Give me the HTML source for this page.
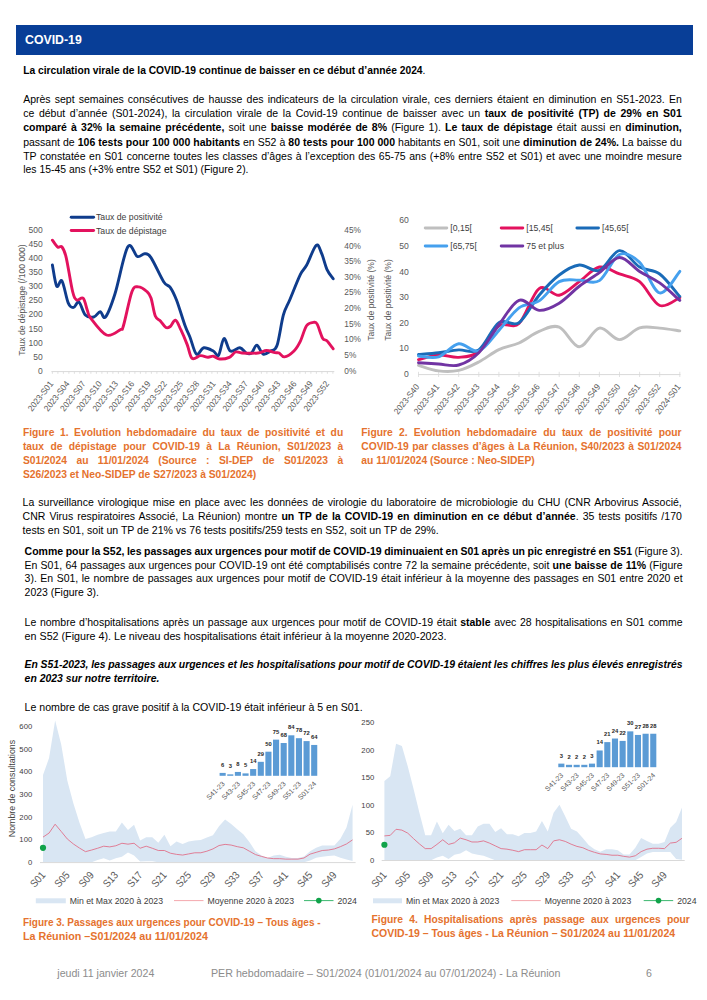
<!DOCTYPE html>
<html><head><meta charset="utf-8"><style>
html,body{margin:0;padding:0;background:#fff;}
body{width:707px;height:1000px;position:relative;overflow:hidden;font-family:"Liberation Sans", sans-serif;}
.t{position:absolute;white-space:nowrap;}
.hdr{position:absolute;left:16px;top:25px;width:677px;height:30px;background:#083E97;}
.hdr span{position:absolute;left:9px;top:0;line-height:30px;color:#fff;font-weight:bold;font-size:12.3px;}
</style></head><body>
<div class="hdr"><span>COVID-19</span></div>
<div class="t" style="left:23.2px;top:65.28px;font-size:10.27px;line-height:12.32px;font-weight:normal;font-style:normal;color:#000;word-spacing:0.000px;"><b>La circulation virale de la COVID-19 continue de baisser en ce début d’année 2024</b>.</div><div class="t" style="left:23.2px;top:92.66px;font-size:10.5px;line-height:12.6px;font-weight:normal;font-style:normal;color:#000;word-spacing:1.240px;">Après sept semaines consécutives de hausse des indicateurs de la circulation virale, ces derniers étaient en diminution en S51-2023. En</div><div class="t" style="left:23.2px;top:107.06px;font-size:10.5px;line-height:12.6px;font-weight:normal;font-style:normal;color:#000;word-spacing:1.735px;">ce début d’année (S01-2024), la circulation virale de la Covid-19 continue de baisser avec un <b>taux de positivité (TP) de 29% en S01</b></div><div class="t" style="left:23.2px;top:121.46px;font-size:10.5px;line-height:12.6px;font-weight:normal;font-style:normal;color:#000;word-spacing:1.236px;"><b>comparé à 32% la semaine précédente,</b> soit une <b>baisse modérée de 8%</b> (Figure 1). <b>Le taux de dépistage</b> était aussi en <b>diminution,</b></div><div class="t" style="left:23.2px;top:135.86px;font-size:10.5px;line-height:12.6px;font-weight:normal;font-style:normal;color:#000;word-spacing:0.120px;">passant de <b>106 tests pour 100 000 habitants</b> en S52 à <b>80 tests pour 100 000</b> habitants en S01, soit une <b>diminution de 24%.</b> La baisse du</div><div class="t" style="left:23.2px;top:150.06px;font-size:10.5px;line-height:12.6px;font-weight:normal;font-style:normal;color:#000;word-spacing:0.664px;">TP constatée en S01 concerne toutes les classes d’âges à l’exception des 65-75 ans (+8% entre S52 et S01) et avec une moindre mesure</div><div class="t" style="left:23.2px;top:164.33px;font-size:10.424px;line-height:12.51px;font-weight:normal;font-style:normal;color:#000;word-spacing:0.000px;">les 15-45 ans (+3% entre S52 et S01) (Figure 2).</div><div class="t" style="left:22.6px;top:495.86px;font-size:10.5px;line-height:12.6px;font-weight:normal;font-style:normal;color:#000;word-spacing:1.150px;">La surveillance virologique mise en place avec les données de virologie du laboratoire de microbiologie du CHU (CNR Arbovirus Associé,</div><div class="t" style="left:22.6px;top:509.76px;font-size:10.5px;line-height:12.6px;font-weight:normal;font-style:normal;color:#000;word-spacing:1.149px;">CNR Virus respiratoires Associé, La Réunion) montre <b>un TP de la COVID-19 en diminution en ce début d’année</b>. 35 tests positifs /170</div><div class="t" style="left:22.6px;top:523.51px;font-size:10.55px;line-height:12.66px;font-weight:normal;font-style:normal;color:#000;word-spacing:0.000px;">tests en S01, soit un TP de 21% vs 76 tests positifs/259 tests en S52, soit un TP de 29%.</div><div class="t" style="left:24.6px;top:544.76px;font-size:10.5px;line-height:12.6px;font-weight:normal;font-style:normal;color:#000;word-spacing:-0.381px;"><b>Comme pour la S52, les passages aux urgences pour motif de COVID-19 diminuaient en S01 après un pic enregistré en S51</b> (Figure 3).</div><div class="t" style="left:24.6px;top:558.56px;font-size:10.5px;line-height:12.6px;font-weight:normal;font-style:normal;color:#000;word-spacing:0.259px;">En S01, 64 passages aux urgences pour COVID-19 ont été comptabilisés contre 72 la semaine précédente, soit <b>une baisse de 11%</b> (Figure</div><div class="t" style="left:24.6px;top:572.46px;font-size:10.5px;line-height:12.6px;font-weight:normal;font-style:normal;color:#000;word-spacing:0.567px;">3). En S01, le nombre de passages aux urgences pour motif de COVID-19 était inférieur à la moyenne des passages en S01 entre 2020 et</div><div class="t" style="left:24.6px;top:586.60px;font-size:10.455px;line-height:12.55px;font-weight:normal;font-style:normal;color:#000;word-spacing:0.000px;">2023 (Figure 3).</div><div class="t" style="left:24.6px;top:615.86px;font-size:10.5px;line-height:12.6px;font-weight:normal;font-style:normal;color:#000;word-spacing:0.685px;">Le nombre d’hospitalisations après un passage aux urgences pour motif de COVID-19 était <b>stable</b> avec 28 hospitalisations en S01 comme</div><div class="t" style="left:24.6px;top:629.55px;font-size:10.727px;line-height:12.87px;font-weight:normal;font-style:normal;color:#000;word-spacing:0.000px;">en S52 (Figure 4). Le niveau des hospitalisations était inférieur à la moyenne 2020-2023.</div><div class="t" style="left:24.6px;top:658.76px;font-size:10.4px;line-height:12.48px;font-weight:bold;font-style:italic;color:#000;word-spacing:-0.221px;">En S51-2023, les passages aux urgences et les hospitalisations pour motif de COVID-19 étaient les chiffres les plus élevés enregistrés</div><div class="t" style="left:24.6px;top:672.65px;font-size:10.411px;line-height:12.49px;font-weight:bold;font-style:italic;color:#000;word-spacing:0.000px;">en 2023 sur notre territoire.</div><div class="t" style="left:24.6px;top:701.46px;font-size:10.606px;line-height:12.73px;font-weight:normal;font-style:normal;color:#000;word-spacing:0.000px;">Le nombre de cas grave positif à la COVID-19 était inférieur à 5 en S01.</div><div class="t" style="left:22.9px;top:426.65px;font-size:10.3px;line-height:12.36px;font-weight:bold;font-style:normal;color:#E5722E;word-spacing:2.723px;">Figure 1. Evolution hebdomadaire du taux de positivité et du</div><div class="t" style="left:22.9px;top:440.85px;font-size:10.3px;line-height:12.36px;font-weight:bold;font-style:normal;color:#E5722E;word-spacing:3.480px;">taux de dépistage pour COVID-19 à La Réunion, S01/2023 à</div><div class="t" style="left:22.9px;top:455.05px;font-size:10.3px;line-height:12.36px;font-weight:bold;font-style:normal;color:#E5722E;word-spacing:6.575px;">S01/2024 au 11/01/2024 (Source : SI-DEP de S01/2023 à</div><div class="t" style="left:22.9px;top:469.25px;font-size:10.3px;line-height:12.36px;font-weight:bold;font-style:normal;color:#E5722E;">S26/2023 et Neo-SIDEP de S27/2023 à S01/2024)</div><div class="t" style="left:361.3px;top:426.65px;font-size:10.3px;line-height:12.36px;font-weight:bold;font-style:normal;color:#E5722E;word-spacing:3.278px;">Figure 2. Evolution hebdomadaire du taux de positivité pour</div><div class="t" style="left:361.3px;top:440.85px;font-size:10.3px;line-height:12.36px;font-weight:bold;font-style:normal;color:#E5722E;word-spacing:0.611px;">COVID-19 par classes d’âges à La Réunion, S40/2023 à S01/2024</div><div class="t" style="left:361.3px;top:455.05px;font-size:10.3px;line-height:12.36px;font-weight:bold;font-style:normal;color:#E5722E;">au 11/01/2024 (Source : Neo-SIDEP)</div><div class="t" style="left:22.9px;top:917.03px;font-size:10.007px;line-height:12.01px;font-weight:bold;font-style:normal;color:#E5722E;word-spacing:0.000px;">Figure 3. Passages aux urgences pour COVID-19 – Tous âges -</div><div class="t" style="left:22.9px;top:930.03px;font-size:10.744px;line-height:12.89px;font-weight:bold;font-style:normal;color:#E5722E;word-spacing:0.000px;">La Réunion –S01/2024 au 11/01/2024</div><div class="t" style="left:371.5px;top:913.85px;font-size:10.3px;line-height:12.36px;font-weight:bold;font-style:normal;color:#E5722E;word-spacing:3.371px;">Figure 4. Hospitalisations après passage aux urgences pour</div><div class="t" style="left:371.5px;top:928.39px;font-size:10.47px;line-height:12.56px;font-weight:bold;font-style:normal;color:#E5722E;word-spacing:0.000px;">COVID-19 – Tous âges - La Réunion – S01/2024 au 11/01/2024</div><div class="t" style="left:57.3px;top:966.67px;font-size:10.6px;line-height:12.72px;font-weight:normal;font-style:normal;color:#8C8C8C;">jeudi 11 janvier 2024</div><div class="t" style="left:211px;top:966.59px;font-size:10.682px;line-height:12.82px;font-weight:normal;font-style:normal;color:#8C8C8C;word-spacing:0.000px;">PER hebdomadaire – S01/2024 (01/01/2024 au 07/01/2024) - La Réunion</div><div class="t" style="left:646px;top:966.67px;font-size:10.6px;line-height:12.72px;font-weight:normal;font-style:normal;color:#8C8C8C;">6</div>
<svg width="707" height="1000" viewBox="0 0 707 1000" style="position:absolute;left:0;top:0" font-family="'Liberation Sans', sans-serif"><line x1="71.2" y1="217.3" x2="93.6" y2="217.3" stroke="#0F3C8C" stroke-width="2.9" stroke-linecap="round"/><text x="96.00" y="220.47" font-size="8.7" text-anchor="start" fill="#404040" font-weight="normal">Taux de positivité</text><line x1="71.2" y1="230.5" x2="93.6" y2="230.5" stroke="#E3125E" stroke-width="2.9" stroke-linecap="round"/><text x="96.00" y="233.67" font-size="8.7" text-anchor="start" fill="#404040" font-weight="normal">Taux de dépistage</text><text x="42.70" y="373.70" font-size="8.5" text-anchor="end" fill="#595959" font-weight="normal">0</text><text x="42.70" y="359.64" font-size="8.5" text-anchor="end" fill="#595959" font-weight="normal">50</text><text x="42.70" y="345.58" font-size="8.5" text-anchor="end" fill="#595959" font-weight="normal">100</text><text x="42.70" y="331.52" font-size="8.5" text-anchor="end" fill="#595959" font-weight="normal">150</text><text x="42.70" y="317.46" font-size="8.5" text-anchor="end" fill="#595959" font-weight="normal">200</text><text x="42.70" y="303.40" font-size="8.5" text-anchor="end" fill="#595959" font-weight="normal">250</text><text x="42.70" y="289.34" font-size="8.5" text-anchor="end" fill="#595959" font-weight="normal">300</text><text x="42.70" y="275.28" font-size="8.5" text-anchor="end" fill="#595959" font-weight="normal">350</text><text x="42.70" y="261.22" font-size="8.5" text-anchor="end" fill="#595959" font-weight="normal">400</text><text x="42.70" y="247.16" font-size="8.5" text-anchor="end" fill="#595959" font-weight="normal">450</text><text x="42.70" y="233.10" font-size="8.5" text-anchor="end" fill="#595959" font-weight="normal">500</text><text x="344.30" y="373.63" font-size="8.3" text-anchor="start" fill="#595959" font-weight="normal">0%</text><text x="344.30" y="357.99" font-size="8.3" text-anchor="start" fill="#595959" font-weight="normal">5%</text><text x="344.30" y="342.35" font-size="8.3" text-anchor="start" fill="#595959" font-weight="normal">10%</text><text x="344.30" y="326.71" font-size="8.3" text-anchor="start" fill="#595959" font-weight="normal">15%</text><text x="344.30" y="311.07" font-size="8.3" text-anchor="start" fill="#595959" font-weight="normal">20%</text><text x="344.30" y="295.43" font-size="8.3" text-anchor="start" fill="#595959" font-weight="normal">25%</text><text x="344.30" y="279.79" font-size="8.3" text-anchor="start" fill="#595959" font-weight="normal">30%</text><text x="344.30" y="264.15" font-size="8.3" text-anchor="start" fill="#595959" font-weight="normal">35%</text><text x="344.30" y="248.51" font-size="8.3" text-anchor="start" fill="#595959" font-weight="normal">40%</text><text x="344.30" y="232.87" font-size="8.3" text-anchor="start" fill="#595959" font-weight="normal">45%</text><text x="24.50" y="300.00" font-size="8.6" text-anchor="middle" fill="#595959" font-weight="normal" transform="rotate(-90 24.50 300.00)">Taux de dépistage (/100 000)</text><text x="374.20" y="300.00" font-size="8.6" text-anchor="middle" fill="#595959" font-weight="normal" transform="rotate(-90 374.20 300.00)">Taux de positivité (%)</text><line x1="51.4" y1="371.6" x2="334.3" y2="371.6" stroke="#D9D9D9" stroke-width="1"/><path d="M52.40,371.6 v2.2 M57.90,371.6 v2.2 M63.40,371.6 v2.2 M68.90,371.6 v2.2 M74.40,371.6 v2.2 M79.90,371.6 v2.2 M85.40,371.6 v2.2 M90.90,371.6 v2.2 M96.40,371.6 v2.2 M101.90,371.6 v2.2 M107.40,371.6 v2.2 M112.90,371.6 v2.2 M118.40,371.6 v2.2 M123.90,371.6 v2.2 M129.40,371.6 v2.2 M134.90,371.6 v2.2 M140.40,371.6 v2.2 M145.90,371.6 v2.2 M151.40,371.6 v2.2 M156.90,371.6 v2.2 M162.40,371.6 v2.2 M167.90,371.6 v2.2 M173.40,371.6 v2.2 M178.90,371.6 v2.2 M184.40,371.6 v2.2 M189.90,371.6 v2.2 M195.40,371.6 v2.2 M200.90,371.6 v2.2 M206.40,371.6 v2.2 M211.90,371.6 v2.2 M217.40,371.6 v2.2 M222.90,371.6 v2.2 M228.40,371.6 v2.2 M233.90,371.6 v2.2 M239.40,371.6 v2.2 M244.90,371.6 v2.2 M250.40,371.6 v2.2 M255.90,371.6 v2.2 M261.40,371.6 v2.2 M266.90,371.6 v2.2 M272.40,371.6 v2.2 M277.90,371.6 v2.2 M283.40,371.6 v2.2 M288.90,371.6 v2.2 M294.40,371.6 v2.2 M299.90,371.6 v2.2 M305.40,371.6 v2.2 M310.90,371.6 v2.2 M316.40,371.6 v2.2 M321.90,371.6 v2.2 M327.40,371.6 v2.2 M332.90,371.6 v2.2 " stroke="#D9D9D9" stroke-width="0.8"/><text x="0" y="0" font-size="8.8" text-anchor="end" fill="#595959" font-weight="normal" transform="translate(53.70 384.00) rotate(-52) scale(0.93 1)">2023-S01</text><text x="0" y="0" font-size="8.8" text-anchor="end" fill="#595959" font-weight="normal" transform="translate(69.93 384.00) rotate(-52) scale(0.93 1)">2023-S04</text><text x="0" y="0" font-size="8.8" text-anchor="end" fill="#595959" font-weight="normal" transform="translate(86.16 384.00) rotate(-52) scale(0.93 1)">2023-S07</text><text x="0" y="0" font-size="8.8" text-anchor="end" fill="#595959" font-weight="normal" transform="translate(102.39 384.00) rotate(-52) scale(0.93 1)">2023-S10</text><text x="0" y="0" font-size="8.8" text-anchor="end" fill="#595959" font-weight="normal" transform="translate(118.62 384.00) rotate(-52) scale(0.93 1)">2023-S13</text><text x="0" y="0" font-size="8.8" text-anchor="end" fill="#595959" font-weight="normal" transform="translate(134.85 384.00) rotate(-52) scale(0.93 1)">2023-S16</text><text x="0" y="0" font-size="8.8" text-anchor="end" fill="#595959" font-weight="normal" transform="translate(151.08 384.00) rotate(-52) scale(0.93 1)">2023-S19</text><text x="0" y="0" font-size="8.8" text-anchor="end" fill="#595959" font-weight="normal" transform="translate(167.31 384.00) rotate(-52) scale(0.93 1)">2023-S22</text><text x="0" y="0" font-size="8.8" text-anchor="end" fill="#595959" font-weight="normal" transform="translate(183.54 384.00) rotate(-52) scale(0.93 1)">2023-S25</text><text x="0" y="0" font-size="8.8" text-anchor="end" fill="#595959" font-weight="normal" transform="translate(199.77 384.00) rotate(-52) scale(0.93 1)">2023-S28</text><text x="0" y="0" font-size="8.8" text-anchor="end" fill="#595959" font-weight="normal" transform="translate(216.00 384.00) rotate(-52) scale(0.93 1)">2023-S31</text><text x="0" y="0" font-size="8.8" text-anchor="end" fill="#595959" font-weight="normal" transform="translate(232.23 384.00) rotate(-52) scale(0.93 1)">2023-S34</text><text x="0" y="0" font-size="8.8" text-anchor="end" fill="#595959" font-weight="normal" transform="translate(248.46 384.00) rotate(-52) scale(0.93 1)">2023-S37</text><text x="0" y="0" font-size="8.8" text-anchor="end" fill="#595959" font-weight="normal" transform="translate(264.69 384.00) rotate(-52) scale(0.93 1)">2023-S40</text><text x="0" y="0" font-size="8.8" text-anchor="end" fill="#595959" font-weight="normal" transform="translate(280.92 384.00) rotate(-52) scale(0.93 1)">2023-S43</text><text x="0" y="0" font-size="8.8" text-anchor="end" fill="#595959" font-weight="normal" transform="translate(297.15 384.00) rotate(-52) scale(0.93 1)">2023-S46</text><text x="0" y="0" font-size="8.8" text-anchor="end" fill="#595959" font-weight="normal" transform="translate(313.38 384.00) rotate(-52) scale(0.93 1)">2023-S49</text><text x="0" y="0" font-size="8.8" text-anchor="end" fill="#595959" font-weight="normal" transform="translate(329.61 384.00) rotate(-52) scale(0.93 1)">2023-S52</text><path d="M52.40,265.00 C53.12,268.53 55.10,283.53 56.70,286.20 C58.30,288.87 60.07,278.17 62.00,281.00 C63.93,283.83 66.37,298.80 68.30,303.20 C70.23,307.60 71.82,307.58 73.60,307.40 C75.38,307.22 77.05,300.85 79.00,302.10 C80.95,303.35 82.83,312.42 85.30,314.90 C87.77,317.38 91.32,317.53 93.80,317.00 C96.28,316.47 98.25,311.70 100.20,311.70 C102.15,311.70 103.03,320.00 105.50,317.00 C107.97,314.00 111.30,305.37 115.00,293.70 C118.70,282.03 123.98,253.20 127.70,247.00 C131.42,240.80 134.47,255.37 137.30,256.50 C140.13,257.63 142.42,253.62 144.70,253.80 C146.98,253.98 147.82,252.90 151.00,257.60 C154.18,262.30 160.60,277.05 163.80,282.00 C167.00,286.95 168.08,284.30 170.20,287.30 C172.32,290.30 174.03,293.63 176.50,300.00 C178.97,306.37 182.75,319.30 185.00,325.50 C187.25,331.70 188.10,332.43 190.00,337.20 C191.90,341.97 194.10,352.33 196.40,354.10 C198.70,355.87 200.98,348.32 203.80,347.80 C206.62,347.28 210.83,349.77 213.30,351.00 C215.77,352.23 216.82,357.27 218.60,355.20 C220.38,353.13 222.05,339.30 224.00,338.60 C225.95,337.90 227.65,349.47 230.30,351.00 C232.95,352.53 237.25,347.47 239.90,347.80 C242.55,348.13 244.27,352.13 246.20,353.00 C248.13,353.87 249.73,354.30 251.50,353.00 C253.27,351.70 254.85,345.02 256.80,345.20 C258.75,345.38 260.90,353.13 263.20,354.10 C265.50,355.07 268.30,352.42 270.60,351.00 C272.90,349.58 274.87,351.62 277.00,345.60 C279.13,339.58 281.28,322.50 283.40,314.90 C285.52,307.30 286.88,306.72 289.70,300.00 C292.52,293.28 297.47,280.43 300.30,274.60 C303.13,268.77 304.05,269.88 306.70,265.00 C309.35,260.12 313.72,247.25 316.20,245.30 C318.68,243.35 319.82,249.30 321.60,253.30 C323.38,257.30 324.97,265.05 326.90,269.30 C328.83,273.55 332.15,277.22 333.20,278.80" fill="none" stroke="#0F3C8C" stroke-width="2.9" stroke-linejoin="round" stroke-linecap="round"/><path d="M52.40,240.20 C53.28,241.33 56.10,245.87 57.70,247.00 C59.30,248.13 60.58,245.23 62.00,247.00 C63.42,248.77 64.43,250.18 66.20,257.60 C67.97,265.02 70.83,284.43 72.60,291.50 C74.37,298.57 75.03,298.87 76.80,300.00 C78.57,301.13 81.43,296.53 83.20,298.30 C84.97,300.07 86.17,307.32 87.40,310.60 C88.63,313.88 87.42,313.93 90.60,318.00 C93.78,322.07 101.55,333.05 106.50,335.00 C111.45,336.95 117.47,331.28 120.30,329.70 C123.13,328.12 121.55,331.87 123.50,325.50 C125.45,319.13 129.52,297.93 132.00,291.50 C134.48,285.07 135.93,286.90 138.40,286.90 C140.87,286.90 144.70,289.67 146.80,291.50 C148.90,293.33 149.58,293.82 151.00,297.90 C152.42,301.98 153.70,312.12 155.30,316.00 C156.90,319.88 158.83,319.27 160.60,321.20 C162.37,323.13 164.30,326.72 165.90,327.60 C167.50,328.48 168.60,327.73 170.20,326.50 C171.80,325.27 173.73,319.67 175.50,320.20 C177.27,320.73 178.85,325.63 180.80,329.70 C182.75,333.77 185.32,339.82 187.20,344.60 C189.08,349.38 189.87,356.57 192.10,358.40 C194.33,360.23 197.95,355.78 200.60,355.60 C203.25,355.42 205.88,357.20 208.00,357.30 C210.12,357.40 211.35,355.92 213.30,356.20 C215.25,356.48 217.03,358.82 219.70,359.00 C222.37,359.18 226.65,358.47 229.30,357.30 C231.95,356.13 233.48,352.72 235.60,352.00 C237.72,351.28 238.28,352.83 242.00,353.00 C245.72,353.17 253.83,353.42 257.90,353.00 C261.97,352.58 263.57,350.57 266.40,350.50 C269.23,350.43 272.78,352.18 274.90,352.60 C277.02,353.02 277.52,352.28 279.10,353.00 C280.68,353.72 281.92,357.23 284.40,356.90 C286.88,356.57 291.35,353.58 294.00,351.00 C296.65,348.42 298.18,345.65 300.30,341.40 C302.42,337.15 304.40,328.68 306.70,325.50 C309.00,322.32 312.33,322.48 314.10,322.30 C315.87,322.12 315.88,321.75 317.30,324.40 C318.72,327.05 321.00,335.47 322.60,338.20 C324.20,340.93 325.13,339.03 326.90,340.80 C328.67,342.57 332.15,347.47 333.20,348.80" fill="none" stroke="#E3125E" stroke-width="2.9" stroke-linejoin="round" stroke-linecap="round"/><line x1="425.2" y1="228" x2="446.8" y2="228" stroke="#BFBFBF" stroke-width="2.9" stroke-linecap="round"/><text x="450.30" y="231.17" font-size="8.7" text-anchor="start" fill="#404040" font-weight="normal">[0,15[</text><line x1="501.2" y1="228" x2="522.8" y2="228" stroke="#E3125E" stroke-width="2.9" stroke-linecap="round"/><text x="526.30" y="231.17" font-size="8.7" text-anchor="start" fill="#404040" font-weight="normal">[15,45[</text><line x1="576.9000000000001" y1="228" x2="598.5" y2="228" stroke="#1A6BB8" stroke-width="2.9" stroke-linecap="round"/><text x="602.00" y="231.17" font-size="8.7" text-anchor="start" fill="#404040" font-weight="normal">[45,65[</text><line x1="425.2" y1="246" x2="446.8" y2="246" stroke="#45A0EE" stroke-width="2.9" stroke-linecap="round"/><text x="450.30" y="249.17" font-size="8.7" text-anchor="start" fill="#404040" font-weight="normal">[65,75[</text><line x1="501.2" y1="246" x2="522.8" y2="246" stroke="#7134A3" stroke-width="2.9" stroke-linecap="round"/><text x="526.30" y="249.17" font-size="8.7" text-anchor="start" fill="#404040" font-weight="normal">75 et plus</text><text x="408.80" y="377.13" font-size="8.6" text-anchor="end" fill="#595959" font-weight="normal">0</text><text x="408.80" y="351.48" font-size="8.6" text-anchor="end" fill="#595959" font-weight="normal">10</text><text x="408.80" y="325.83" font-size="8.6" text-anchor="end" fill="#595959" font-weight="normal">20</text><text x="408.80" y="300.18" font-size="8.6" text-anchor="end" fill="#595959" font-weight="normal">30</text><text x="408.80" y="274.53" font-size="8.6" text-anchor="end" fill="#595959" font-weight="normal">40</text><text x="408.80" y="248.88" font-size="8.6" text-anchor="end" fill="#595959" font-weight="normal">50</text><text x="408.80" y="223.23" font-size="8.6" text-anchor="end" fill="#595959" font-weight="normal">60</text><text x="391.30" y="300.00" font-size="8.6" text-anchor="middle" fill="#595959" font-weight="normal" transform="rotate(-90 391.30 300.00)">Taux de positivité (%)</text><line x1="418" y1="374.6" x2="680.5" y2="374.6" stroke="#D9D9D9" stroke-width="1"/><path d="M418.50,371.8 v5.2 M438.60,371.8 v5.2 M458.70,371.8 v5.2 M478.80,371.8 v5.2 M498.90,371.8 v5.2 M519.00,371.8 v5.2 M539.10,371.8 v5.2 M559.20,371.8 v5.2 M579.30,371.8 v5.2 M599.40,371.8 v5.2 M619.50,371.8 v5.2 M639.60,371.8 v5.2 M659.70,371.8 v5.2 M679.80,371.8 v5.2 " stroke="#D9D9D9" stroke-width="0.8"/><text x="0" y="0" font-size="8.8" text-anchor="end" fill="#595959" font-weight="normal" transform="translate(419.80 387.00) rotate(-52) scale(0.93 1)">2023-S40</text><text x="0" y="0" font-size="8.8" text-anchor="end" fill="#595959" font-weight="normal" transform="translate(439.90 387.00) rotate(-52) scale(0.93 1)">2023-S41</text><text x="0" y="0" font-size="8.8" text-anchor="end" fill="#595959" font-weight="normal" transform="translate(460.00 387.00) rotate(-52) scale(0.93 1)">2023-S42</text><text x="0" y="0" font-size="8.8" text-anchor="end" fill="#595959" font-weight="normal" transform="translate(480.10 387.00) rotate(-52) scale(0.93 1)">2023-S43</text><text x="0" y="0" font-size="8.8" text-anchor="end" fill="#595959" font-weight="normal" transform="translate(500.20 387.00) rotate(-52) scale(0.93 1)">2023-S44</text><text x="0" y="0" font-size="8.8" text-anchor="end" fill="#595959" font-weight="normal" transform="translate(520.30 387.00) rotate(-52) scale(0.93 1)">2023-S45</text><text x="0" y="0" font-size="8.8" text-anchor="end" fill="#595959" font-weight="normal" transform="translate(540.40 387.00) rotate(-52) scale(0.93 1)">2023-S46</text><text x="0" y="0" font-size="8.8" text-anchor="end" fill="#595959" font-weight="normal" transform="translate(560.50 387.00) rotate(-52) scale(0.93 1)">2023-S47</text><text x="0" y="0" font-size="8.8" text-anchor="end" fill="#595959" font-weight="normal" transform="translate(580.60 387.00) rotate(-52) scale(0.93 1)">2023-S48</text><text x="0" y="0" font-size="8.8" text-anchor="end" fill="#595959" font-weight="normal" transform="translate(600.70 387.00) rotate(-52) scale(0.93 1)">2023-S49</text><text x="0" y="0" font-size="8.8" text-anchor="end" fill="#595959" font-weight="normal" transform="translate(620.80 387.00) rotate(-52) scale(0.93 1)">2023-S50</text><text x="0" y="0" font-size="8.8" text-anchor="end" fill="#595959" font-weight="normal" transform="translate(640.90 387.00) rotate(-52) scale(0.93 1)">2023-S51</text><text x="0" y="0" font-size="8.8" text-anchor="end" fill="#595959" font-weight="normal" transform="translate(661.00 387.00) rotate(-52) scale(0.93 1)">2023-S52</text><text x="0" y="0" font-size="8.8" text-anchor="end" fill="#595959" font-weight="normal" transform="translate(681.10 387.00) rotate(-52) scale(0.93 1)">2024-S01</text><path d="M418.50,365.28 C421.85,366.22 431.90,370.07 438.60,370.92 C445.30,371.78 452.00,371.91 458.70,370.41 C465.40,368.91 472.10,365.41 478.80,361.94 C485.50,358.48 492.20,352.80 498.90,349.63 C505.60,346.47 512.30,346.00 519.00,342.96 C525.70,339.93 532.40,334.07 539.10,331.42 C545.80,328.77 552.50,324.50 559.20,327.06 C565.90,329.63 572.60,346.64 579.30,346.81 C586.00,346.98 592.70,329.28 599.40,328.09 C606.10,326.89 612.80,339.67 619.50,339.63 C626.20,339.59 632.90,329.75 639.60,327.83 C646.30,325.91 653.00,327.57 659.70,328.09 C666.40,328.60 676.45,330.44 679.80,330.91" fill="none" stroke="#BFBFBF" stroke-width="2.9" stroke-linejoin="round" stroke-linecap="round"/><path d="M418.50,359.64 C421.85,358.87 431.90,355.40 438.60,355.02 C445.30,354.63 452.00,357.88 458.70,357.33 C465.40,356.77 472.10,356.94 478.80,351.68 C485.50,346.43 492.20,330.48 498.90,325.78 C505.60,321.08 512.30,329.67 519.00,323.47 C525.70,317.27 532.40,293.29 539.10,288.59 C545.80,283.88 552.50,296.41 559.20,295.25 C565.90,294.10 572.60,286.36 579.30,281.66 C586.00,276.96 592.70,268.32 599.40,267.04 C606.10,265.76 612.80,271.53 619.50,273.97 C626.20,276.40 632.90,276.40 639.60,281.66 C646.30,286.92 653.00,302.86 659.70,305.51 C666.40,308.17 676.45,298.89 679.80,297.56" fill="none" stroke="#E3125E" stroke-width="2.9" stroke-linejoin="round" stroke-linecap="round"/><path d="M418.50,354.51 C421.85,354.21 431.90,353.48 438.60,352.71 C445.30,351.94 452.00,350.36 458.70,349.89 C465.40,349.42 472.10,354.42 478.80,349.89 C485.50,345.36 492.20,327.23 498.90,322.70 C505.60,318.17 512.30,327.27 519.00,322.70 C525.70,318.13 532.40,303.21 539.10,295.25 C545.80,287.30 552.50,280.04 559.20,274.99 C565.90,269.95 572.60,265.76 579.30,264.99 C586.00,264.22 592.70,272.77 599.40,270.37 C606.10,267.98 612.80,251.18 619.50,250.62 C626.20,250.07 632.90,263.15 639.60,267.04 C646.30,270.93 653.00,269.05 659.70,273.97 C666.40,278.88 676.45,292.78 679.80,296.54" fill="none" stroke="#1A6BB8" stroke-width="2.9" stroke-linejoin="round" stroke-linecap="round"/><path d="M418.50,356.05 C421.85,356.17 431.90,358.87 438.60,356.81 C445.30,354.76 452.00,344.72 458.70,343.73 C465.40,342.75 472.10,353.14 478.80,350.92 C485.50,348.69 492.20,337.58 498.90,330.39 C505.60,323.21 512.30,312.74 519.00,307.82 C525.70,302.91 532.40,305.26 539.10,300.90 C545.80,296.54 552.50,285.12 559.20,281.66 C565.90,278.20 572.60,280.29 579.30,280.12 C586.00,279.95 592.70,284.91 599.40,280.63 C606.10,276.36 612.80,257.51 619.50,254.47 C626.20,251.44 632.90,256.01 639.60,262.42 C646.30,268.84 653.00,291.45 659.70,292.95 C666.40,294.44 676.45,274.99 679.80,271.40" fill="none" stroke="#45A0EE" stroke-width="2.9" stroke-linejoin="round" stroke-linecap="round"/><path d="M418.50,362.71 C421.85,362.93 431.90,363.61 438.60,364.00 C445.30,364.38 452.00,366.90 458.70,365.02 C465.40,363.14 472.10,359.42 478.80,352.71 C485.50,346.00 492.20,333.47 498.90,324.75 C505.60,316.03 512.30,302.78 519.00,300.38 C525.70,297.99 532.40,309.92 539.10,310.39 C545.80,310.86 552.50,307.22 559.20,303.21 C565.90,299.19 572.60,291.36 579.30,286.28 C586.00,281.19 592.70,277.47 599.40,272.68 C606.10,267.89 612.80,257.76 619.50,257.55 C626.20,257.34 632.90,267.17 639.60,271.40 C646.30,275.63 653.00,278.11 659.70,282.94 C666.40,287.77 676.45,297.48 679.80,300.38" fill="none" stroke="#7134A3" stroke-width="2.9" stroke-linejoin="round" stroke-linecap="round"/><path d="M43.00,775.02 L49.07,758.02 L55.14,720.61 L61.21,744.42 L67.28,780.46 L73.35,803.13 L79.42,822.40 L85.49,838.95 L91.56,837.14 L97.63,834.87 L103.70,833.06 L109.77,831.47 L115.84,831.47 L121.91,822.40 L127.98,829.88 L134.05,824.67 L140.12,840.54 L146.19,837.14 L152.26,837.14 L158.33,842.80 L164.40,834.87 L170.47,846.20 L176.54,841.44 L182.61,843.94 L188.68,841.44 L194.75,840.54 L200.82,840.08 L206.89,837.59 L212.96,835.32 L219.03,826.25 L225.10,819.45 L231.17,823.99 L237.24,829.20 L243.31,834.19 L249.38,842.12 L255.45,851.19 L261.52,855.50 L267.59,857.99 L273.66,855.50 L279.73,854.82 L285.80,856.63 L291.87,857.99 L297.94,857.99 L304.01,856.41 L310.08,851.19 L316.15,847.79 L322.22,845.52 L328.29,845.52 L334.36,845.52 L340.43,838.72 L346.50,827.39 L352.57,804.72 L352.57,860.94 L346.50,859.58 L340.43,857.77 L334.36,855.50 L328.29,855.95 L322.22,856.63 L316.15,857.77 L310.08,860.49 L304.01,862.30 L297.94,862.30 L291.87,862.30 L285.80,862.30 L279.73,862.30 L273.66,862.30 L267.59,862.30 L261.52,862.30 L255.45,862.30 L249.38,862.30 L243.31,862.30 L237.24,862.30 L231.17,862.30 L225.10,862.30 L219.03,862.30 L212.96,862.30 L206.89,862.30 L200.82,862.30 L194.75,862.30 L188.68,862.30 L182.61,862.30 L176.54,862.30 L170.47,862.30 L164.40,862.30 L158.33,862.30 L152.26,861.17 L146.19,861.17 L140.12,861.62 L134.05,855.50 L127.98,852.55 L121.91,856.63 L115.84,858.22 L109.77,860.49 L103.70,858.22 L97.63,860.03 L91.56,862.30 L85.49,862.30 L79.42,862.30 L73.35,862.30 L67.28,862.30 L61.21,862.30 L55.14,862.30 L49.07,862.30 L43.00,862.30 Z" fill="#D9E6F3"/><line x1="40" y1="862.5999999999999" x2="355.6" y2="862.5999999999999" stroke="#D9D9D9" stroke-width="1"/><path d="M43.00,837.14 L49.07,833.06 L55.14,824.21 L61.21,831.47 L67.28,838.95 L73.35,843.94 L79.42,848.02 L85.49,851.65 L91.56,850.06 L97.63,848.24 L103.70,846.20 L109.77,846.88 L115.84,845.75 L121.91,843.26 L127.98,844.16 L134.05,843.26 L140.12,848.24 L146.19,846.20 L152.26,848.24 L158.33,850.51 L164.40,850.51 L170.47,853.23 L176.54,854.37 L182.61,855.05 L188.68,853.91 L194.75,852.78 L200.82,852.78 L206.89,851.19 L212.96,848.92 L219.03,845.52 L225.10,844.39 L231.17,845.07 L237.24,846.66 L243.31,847.79 L249.38,851.19 L255.45,854.59 L261.52,856.41 L267.59,857.99 L273.66,858.67 L279.73,858.67 L285.80,859.13 L291.87,859.13 L297.94,859.13 L304.01,857.99 L310.08,854.14 L316.15,852.33 L322.22,850.51 L328.29,850.06 L334.36,848.92 L340.43,846.66 L346.50,843.94 L352.57,839.86" fill="none" stroke="#E06A84" stroke-width="0.85"/><circle cx="43.00" cy="847.79" r="3.1" fill="#10A34A"/><text x="14.80" y="788.50" font-size="8.8" text-anchor="middle" fill="#404040" font-weight="normal" transform="rotate(-90 14.80 788.50)">Nombre de consultations</text><text x="32.20" y="865.11" font-size="7.7" text-anchor="end" fill="#404040" font-weight="normal">0</text><text x="32.20" y="842.44" font-size="7.7" text-anchor="end" fill="#404040" font-weight="normal">100</text><text x="32.20" y="819.77" font-size="7.7" text-anchor="end" fill="#404040" font-weight="normal">200</text><text x="32.20" y="797.10" font-size="7.7" text-anchor="end" fill="#404040" font-weight="normal">300</text><text x="32.20" y="774.43" font-size="7.7" text-anchor="end" fill="#404040" font-weight="normal">400</text><text x="32.20" y="751.76" font-size="7.7" text-anchor="end" fill="#404040" font-weight="normal">500</text><text x="32.20" y="729.09" font-size="7.7" text-anchor="end" fill="#404040" font-weight="normal">600</text><text x="0" y="0" font-size="10.6" text-anchor="end" fill="#595959" font-weight="normal" transform="translate(46.00 875.50) rotate(-48) scale(0.9 1)">S01</text><text x="0" y="0" font-size="10.6" text-anchor="end" fill="#595959" font-weight="normal" transform="translate(70.28 875.50) rotate(-48) scale(0.9 1)">S05</text><text x="0" y="0" font-size="10.6" text-anchor="end" fill="#595959" font-weight="normal" transform="translate(94.56 875.50) rotate(-48) scale(0.9 1)">S09</text><text x="0" y="0" font-size="10.6" text-anchor="end" fill="#595959" font-weight="normal" transform="translate(118.84 875.50) rotate(-48) scale(0.9 1)">S13</text><text x="0" y="0" font-size="10.6" text-anchor="end" fill="#595959" font-weight="normal" transform="translate(143.12 875.50) rotate(-48) scale(0.9 1)">S17</text><text x="0" y="0" font-size="10.6" text-anchor="end" fill="#595959" font-weight="normal" transform="translate(167.40 875.50) rotate(-48) scale(0.9 1)">S21</text><text x="0" y="0" font-size="10.6" text-anchor="end" fill="#595959" font-weight="normal" transform="translate(191.68 875.50) rotate(-48) scale(0.9 1)">S25</text><text x="0" y="0" font-size="10.6" text-anchor="end" fill="#595959" font-weight="normal" transform="translate(215.96 875.50) rotate(-48) scale(0.9 1)">S29</text><text x="0" y="0" font-size="10.6" text-anchor="end" fill="#595959" font-weight="normal" transform="translate(240.24 875.50) rotate(-48) scale(0.9 1)">S33</text><text x="0" y="0" font-size="10.6" text-anchor="end" fill="#595959" font-weight="normal" transform="translate(264.52 875.50) rotate(-48) scale(0.9 1)">S37</text><text x="0" y="0" font-size="10.6" text-anchor="end" fill="#595959" font-weight="normal" transform="translate(288.80 875.50) rotate(-48) scale(0.9 1)">S41</text><text x="0" y="0" font-size="10.6" text-anchor="end" fill="#595959" font-weight="normal" transform="translate(313.08 875.50) rotate(-48) scale(0.9 1)">S45</text><text x="0" y="0" font-size="10.6" text-anchor="end" fill="#595959" font-weight="normal" transform="translate(337.36 875.50) rotate(-48) scale(0.9 1)">S49</text><rect x="219.60" y="772.91" width="6.1" height="2.89" fill="#5B9BD5"/><text x="222.65" y="766.91" font-size="5.8" text-anchor="middle" fill="#262626" font-weight="bold">6</text><rect x="227.23" y="774.35" width="6.1" height="1.45" fill="#5B9BD5"/><text x="230.28" y="768.35" font-size="5.8" text-anchor="middle" fill="#262626" font-weight="bold">3</text><rect x="234.86" y="771.94" width="6.1" height="3.86" fill="#5B9BD5"/><text x="237.91" y="765.94" font-size="5.8" text-anchor="middle" fill="#262626" font-weight="bold">8</text><rect x="242.49" y="773.39" width="6.1" height="2.41" fill="#5B9BD5"/><text x="245.54" y="767.39" font-size="5.8" text-anchor="middle" fill="#262626" font-weight="bold">5</text><rect x="250.12" y="769.05" width="6.1" height="6.75" fill="#5B9BD5"/><text x="253.17" y="763.05" font-size="5.8" text-anchor="middle" fill="#262626" font-weight="bold">14</text><rect x="257.75" y="761.82" width="6.1" height="13.98" fill="#5B9BD5"/><text x="260.80" y="755.82" font-size="5.8" text-anchor="middle" fill="#262626" font-weight="bold">29</text><rect x="265.38" y="751.70" width="6.1" height="24.10" fill="#5B9BD5"/><text x="268.43" y="745.70" font-size="5.8" text-anchor="middle" fill="#262626" font-weight="bold">50</text><rect x="273.01" y="739.65" width="6.1" height="36.15" fill="#5B9BD5"/><text x="276.06" y="733.65" font-size="5.8" text-anchor="middle" fill="#262626" font-weight="bold">75</text><rect x="280.64" y="743.02" width="6.1" height="32.78" fill="#5B9BD5"/><text x="283.69" y="737.02" font-size="5.8" text-anchor="middle" fill="#262626" font-weight="bold">68</text><rect x="288.27" y="735.31" width="6.1" height="40.49" fill="#5B9BD5"/><text x="291.32" y="729.31" font-size="5.8" text-anchor="middle" fill="#262626" font-weight="bold">84</text><rect x="295.90" y="738.20" width="6.1" height="37.60" fill="#5B9BD5"/><text x="298.95" y="732.20" font-size="5.8" text-anchor="middle" fill="#262626" font-weight="bold">78</text><rect x="303.53" y="741.10" width="6.1" height="34.70" fill="#5B9BD5"/><text x="306.58" y="735.10" font-size="5.8" text-anchor="middle" fill="#262626" font-weight="bold">72</text><rect x="311.16" y="744.95" width="6.1" height="30.85" fill="#5B9BD5"/><text x="314.21" y="738.95" font-size="5.8" text-anchor="middle" fill="#262626" font-weight="bold">64</text><text x="225.15" y="784.30" font-size="7.0" text-anchor="end" fill="#595959" font-weight="normal" transform="rotate(-45 225.15 784.30)">S41-23</text><text x="240.41" y="784.30" font-size="7.0" text-anchor="end" fill="#595959" font-weight="normal" transform="rotate(-45 240.41 784.30)">S43-23</text><text x="255.67" y="784.30" font-size="7.0" text-anchor="end" fill="#595959" font-weight="normal" transform="rotate(-45 255.67 784.30)">S45-23</text><text x="270.93" y="784.30" font-size="7.0" text-anchor="end" fill="#595959" font-weight="normal" transform="rotate(-45 270.93 784.30)">S47-23</text><text x="286.19" y="784.30" font-size="7.0" text-anchor="end" fill="#595959" font-weight="normal" transform="rotate(-45 286.19 784.30)">S49-23</text><text x="301.45" y="784.30" font-size="7.0" text-anchor="end" fill="#595959" font-weight="normal" transform="rotate(-45 301.45 784.30)">S51-23</text><text x="316.71" y="784.30" font-size="7.0" text-anchor="end" fill="#595959" font-weight="normal" transform="rotate(-45 316.71 784.30)">S01-24</text><rect x="35.8" y="898.3" width="30.0" height="5" fill="#D9E6F3"/><text x="69.80" y="903.97" font-size="8.7" text-anchor="start" fill="#404040" font-weight="normal">Min et Max 2020 à 2023</text><line x1="174" y1="900.6" x2="203.5" y2="900.6" stroke="#F4A8AE" stroke-width="1"/><text x="207.50" y="903.97" font-size="8.7" text-anchor="start" fill="#404040" font-weight="normal">Moyenne 2020 à 2023</text><line x1="304" y1="900.6" x2="333.5" y2="900.6" stroke="#3DB870" stroke-width="1"/><circle cx="318.8" cy="900.6" r="2.8" fill="#10A34A"/><text x="337.50" y="903.97" font-size="8.7" text-anchor="start" fill="#404040" font-weight="normal">2024</text><path d="M384.40,780.99 L390.23,776.30 L396.07,743.73 L401.90,745.94 L407.74,766.36 L413.57,788.99 L419.41,812.73 L425.25,835.36 L431.08,835.36 L436.91,821.56 L442.75,833.15 L448.58,824.87 L454.42,830.94 L460.25,828.74 L466.09,835.36 L471.92,835.36 L477.76,826.53 L483.59,823.77 L489.43,823.77 L495.26,832.05 L501.10,828.18 L506.93,834.26 L512.77,834.26 L518.61,836.19 L524.44,832.88 L530.27,832.88 L536.11,831.50 L541.94,821.01 L547.78,831.50 L553.62,812.73 L559.45,804.72 L565.28,816.59 L571.12,828.74 L576.95,831.50 L582.79,838.12 L588.62,845.02 L594.46,849.16 L600.29,851.64 L606.13,849.16 L611.96,849.16 L617.80,850.37 L623.63,854.40 L629.47,854.40 L635.30,847.72 L641.14,838.12 L646.97,840.88 L652.81,843.64 L658.64,843.64 L664.48,841.98 L670.32,827.63 L676.15,822.11 L681.98,807.43 L681.98,859.65 L676.15,859.10 L670.32,851.92 L664.48,851.92 L658.64,851.92 L652.81,851.92 L646.97,853.58 L641.14,856.89 L635.30,860.20 L629.47,860.20 L623.63,860.20 L617.80,860.20 L611.96,860.20 L606.13,860.20 L600.29,860.20 L594.46,860.20 L588.62,860.20 L582.79,860.20 L576.95,860.20 L571.12,860.20 L565.28,860.20 L559.45,860.20 L553.62,860.20 L547.78,860.20 L541.94,860.20 L536.11,860.20 L530.27,860.20 L524.44,860.20 L518.61,860.20 L512.77,860.20 L506.93,860.20 L501.10,860.20 L495.26,860.20 L489.43,857.99 L483.59,855.78 L477.76,854.68 L471.92,853.58 L466.09,850.26 L460.25,853.58 L454.42,854.68 L448.58,859.10 L442.75,855.78 L436.91,857.44 L431.08,860.20 L425.25,860.20 L419.41,860.20 L413.57,860.20 L407.74,860.20 L401.90,860.20 L396.07,860.20 L390.23,860.20 L384.40,860.20 Z" fill="#D9E6F3"/><line x1="381.7" y1="860.5" x2="684.7" y2="860.5" stroke="#D9D9D9" stroke-width="1"/><path d="M384.40,835.91 L390.23,835.36 L396.07,829.29 L401.90,830.12 L407.74,833.15 L413.57,838.67 L419.41,843.92 L425.25,848.61 L431.08,848.61 L436.91,844.41 L442.75,839.78 L448.58,844.41 L454.42,842.81 L460.25,838.12 L466.09,839.78 L471.92,841.98 L477.76,841.98 L483.59,840.88 L489.43,843.09 L495.26,845.85 L501.10,848.61 L506.93,849.16 L512.77,850.26 L518.61,851.64 L524.44,849.71 L530.27,849.71 L536.11,849.71 L541.94,845.02 L547.78,848.61 L553.62,840.88 L559.45,839.78 L565.28,841.43 L571.12,844.19 L576.95,846.40 L582.79,847.72 L588.62,850.37 L594.46,852.31 L600.29,853.91 L606.13,854.40 L611.96,855.23 L617.80,855.23 L623.63,856.34 L629.47,857.11 L635.30,855.78 L641.14,851.64 L646.97,849.16 L652.81,848.28 L658.64,848.28 L664.48,848.61 L670.32,843.09 L676.15,842.32 L681.98,838.29" fill="none" stroke="#E06A84" stroke-width="0.85"/><circle cx="384.40" cy="844.74" r="3.1" fill="#10A34A"/><text x="374.20" y="863.01" font-size="7.7" text-anchor="end" fill="#404040" font-weight="normal">0</text><text x="374.20" y="835.41" font-size="7.7" text-anchor="end" fill="#404040" font-weight="normal">50</text><text x="374.20" y="807.81" font-size="7.7" text-anchor="end" fill="#404040" font-weight="normal">100</text><text x="374.20" y="780.21" font-size="7.7" text-anchor="end" fill="#404040" font-weight="normal">150</text><text x="374.20" y="752.61" font-size="7.7" text-anchor="end" fill="#404040" font-weight="normal">200</text><text x="374.20" y="725.01" font-size="7.7" text-anchor="end" fill="#404040" font-weight="normal">250</text><text x="0" y="0" font-size="10.6" text-anchor="end" fill="#595959" font-weight="normal" transform="translate(387.40 875.50) rotate(-48) scale(0.9 1)">S01</text><text x="0" y="0" font-size="10.6" text-anchor="end" fill="#595959" font-weight="normal" transform="translate(410.74 875.50) rotate(-48) scale(0.9 1)">S05</text><text x="0" y="0" font-size="10.6" text-anchor="end" fill="#595959" font-weight="normal" transform="translate(434.08 875.50) rotate(-48) scale(0.9 1)">S09</text><text x="0" y="0" font-size="10.6" text-anchor="end" fill="#595959" font-weight="normal" transform="translate(457.42 875.50) rotate(-48) scale(0.9 1)">S13</text><text x="0" y="0" font-size="10.6" text-anchor="end" fill="#595959" font-weight="normal" transform="translate(480.76 875.50) rotate(-48) scale(0.9 1)">S17</text><text x="0" y="0" font-size="10.6" text-anchor="end" fill="#595959" font-weight="normal" transform="translate(504.10 875.50) rotate(-48) scale(0.9 1)">S21</text><text x="0" y="0" font-size="10.6" text-anchor="end" fill="#595959" font-weight="normal" transform="translate(527.44 875.50) rotate(-48) scale(0.9 1)">S25</text><text x="0" y="0" font-size="10.6" text-anchor="end" fill="#595959" font-weight="normal" transform="translate(550.78 875.50) rotate(-48) scale(0.9 1)">S29</text><text x="0" y="0" font-size="10.6" text-anchor="end" fill="#595959" font-weight="normal" transform="translate(574.12 875.50) rotate(-48) scale(0.9 1)">S33</text><text x="0" y="0" font-size="10.6" text-anchor="end" fill="#595959" font-weight="normal" transform="translate(597.46 875.50) rotate(-48) scale(0.9 1)">S37</text><text x="0" y="0" font-size="10.6" text-anchor="end" fill="#595959" font-weight="normal" transform="translate(620.80 875.50) rotate(-48) scale(0.9 1)">S41</text><text x="0" y="0" font-size="10.6" text-anchor="end" fill="#595959" font-weight="normal" transform="translate(644.14 875.50) rotate(-48) scale(0.9 1)">S45</text><text x="0" y="0" font-size="10.6" text-anchor="end" fill="#595959" font-weight="normal" transform="translate(667.48 875.50) rotate(-48) scale(0.9 1)">S49</text><rect x="558.30" y="763.62" width="6.1" height="3.58" fill="#5B9BD5"/><text x="561.35" y="757.62" font-size="5.8" text-anchor="middle" fill="#262626" font-weight="bold">3</text><rect x="565.96" y="764.81" width="6.1" height="2.39" fill="#5B9BD5"/><text x="569.01" y="758.81" font-size="5.8" text-anchor="middle" fill="#262626" font-weight="bold">2</text><rect x="573.62" y="764.81" width="6.1" height="2.39" fill="#5B9BD5"/><text x="576.67" y="758.81" font-size="5.8" text-anchor="middle" fill="#262626" font-weight="bold">2</text><rect x="581.28" y="764.81" width="6.1" height="2.39" fill="#5B9BD5"/><text x="584.33" y="758.81" font-size="5.8" text-anchor="middle" fill="#262626" font-weight="bold">2</text><rect x="588.94" y="763.62" width="6.1" height="3.58" fill="#5B9BD5"/><text x="591.99" y="757.62" font-size="5.8" text-anchor="middle" fill="#262626" font-weight="bold">3</text><rect x="596.60" y="750.47" width="6.1" height="16.73" fill="#5B9BD5"/><text x="599.65" y="744.47" font-size="5.8" text-anchor="middle" fill="#262626" font-weight="bold">14</text><rect x="604.26" y="742.11" width="6.1" height="25.10" fill="#5B9BD5"/><text x="607.31" y="736.11" font-size="5.8" text-anchor="middle" fill="#262626" font-weight="bold">21</text><rect x="611.92" y="738.52" width="6.1" height="28.68" fill="#5B9BD5"/><text x="614.97" y="732.52" font-size="5.8" text-anchor="middle" fill="#262626" font-weight="bold">24</text><rect x="619.58" y="740.91" width="6.1" height="26.29" fill="#5B9BD5"/><text x="622.63" y="734.91" font-size="5.8" text-anchor="middle" fill="#262626" font-weight="bold">22</text><rect x="627.24" y="731.35" width="6.1" height="35.85" fill="#5B9BD5"/><text x="630.29" y="725.35" font-size="5.8" text-anchor="middle" fill="#262626" font-weight="bold">30</text><rect x="634.90" y="734.94" width="6.1" height="32.27" fill="#5B9BD5"/><text x="637.95" y="728.94" font-size="5.8" text-anchor="middle" fill="#262626" font-weight="bold">27</text><rect x="642.56" y="733.74" width="6.1" height="33.46" fill="#5B9BD5"/><text x="645.61" y="727.74" font-size="5.8" text-anchor="middle" fill="#262626" font-weight="bold">28</text><rect x="650.22" y="733.74" width="6.1" height="33.46" fill="#5B9BD5"/><text x="653.27" y="727.74" font-size="5.8" text-anchor="middle" fill="#262626" font-weight="bold">28</text><text x="563.85" y="775.70" font-size="7.0" text-anchor="end" fill="#595959" font-weight="normal" transform="rotate(-45 563.85 775.70)">S41-23</text><text x="579.17" y="775.70" font-size="7.0" text-anchor="end" fill="#595959" font-weight="normal" transform="rotate(-45 579.17 775.70)">S43-23</text><text x="594.49" y="775.70" font-size="7.0" text-anchor="end" fill="#595959" font-weight="normal" transform="rotate(-45 594.49 775.70)">S45-23</text><text x="609.81" y="775.70" font-size="7.0" text-anchor="end" fill="#595959" font-weight="normal" transform="rotate(-45 609.81 775.70)">S47-23</text><text x="625.13" y="775.70" font-size="7.0" text-anchor="end" fill="#595959" font-weight="normal" transform="rotate(-45 625.13 775.70)">S49-23</text><text x="640.45" y="775.70" font-size="7.0" text-anchor="end" fill="#595959" font-weight="normal" transform="rotate(-45 640.45 775.70)">S51-23</text><text x="655.77" y="775.70" font-size="7.0" text-anchor="end" fill="#595959" font-weight="normal" transform="rotate(-45 655.77 775.70)">S01-24</text><rect x="373" y="898.3" width="29" height="5" fill="#D9E6F3"/><text x="406.00" y="903.97" font-size="8.7" text-anchor="start" fill="#404040" font-weight="normal">Min et Max 2020 à 2023</text><line x1="511.3" y1="900.6" x2="540.8" y2="900.6" stroke="#F4A8AE" stroke-width="1"/><text x="544.80" y="903.97" font-size="8.7" text-anchor="start" fill="#404040" font-weight="normal">Moyenne 2020 à 2023</text><line x1="643.7" y1="900.6" x2="673.2" y2="900.6" stroke="#3DB870" stroke-width="1"/><circle cx="658.5" cy="900.6" r="2.8" fill="#10A34A"/><text x="677.20" y="903.97" font-size="8.7" text-anchor="start" fill="#404040" font-weight="normal">2024</text></svg>
</body></html>
